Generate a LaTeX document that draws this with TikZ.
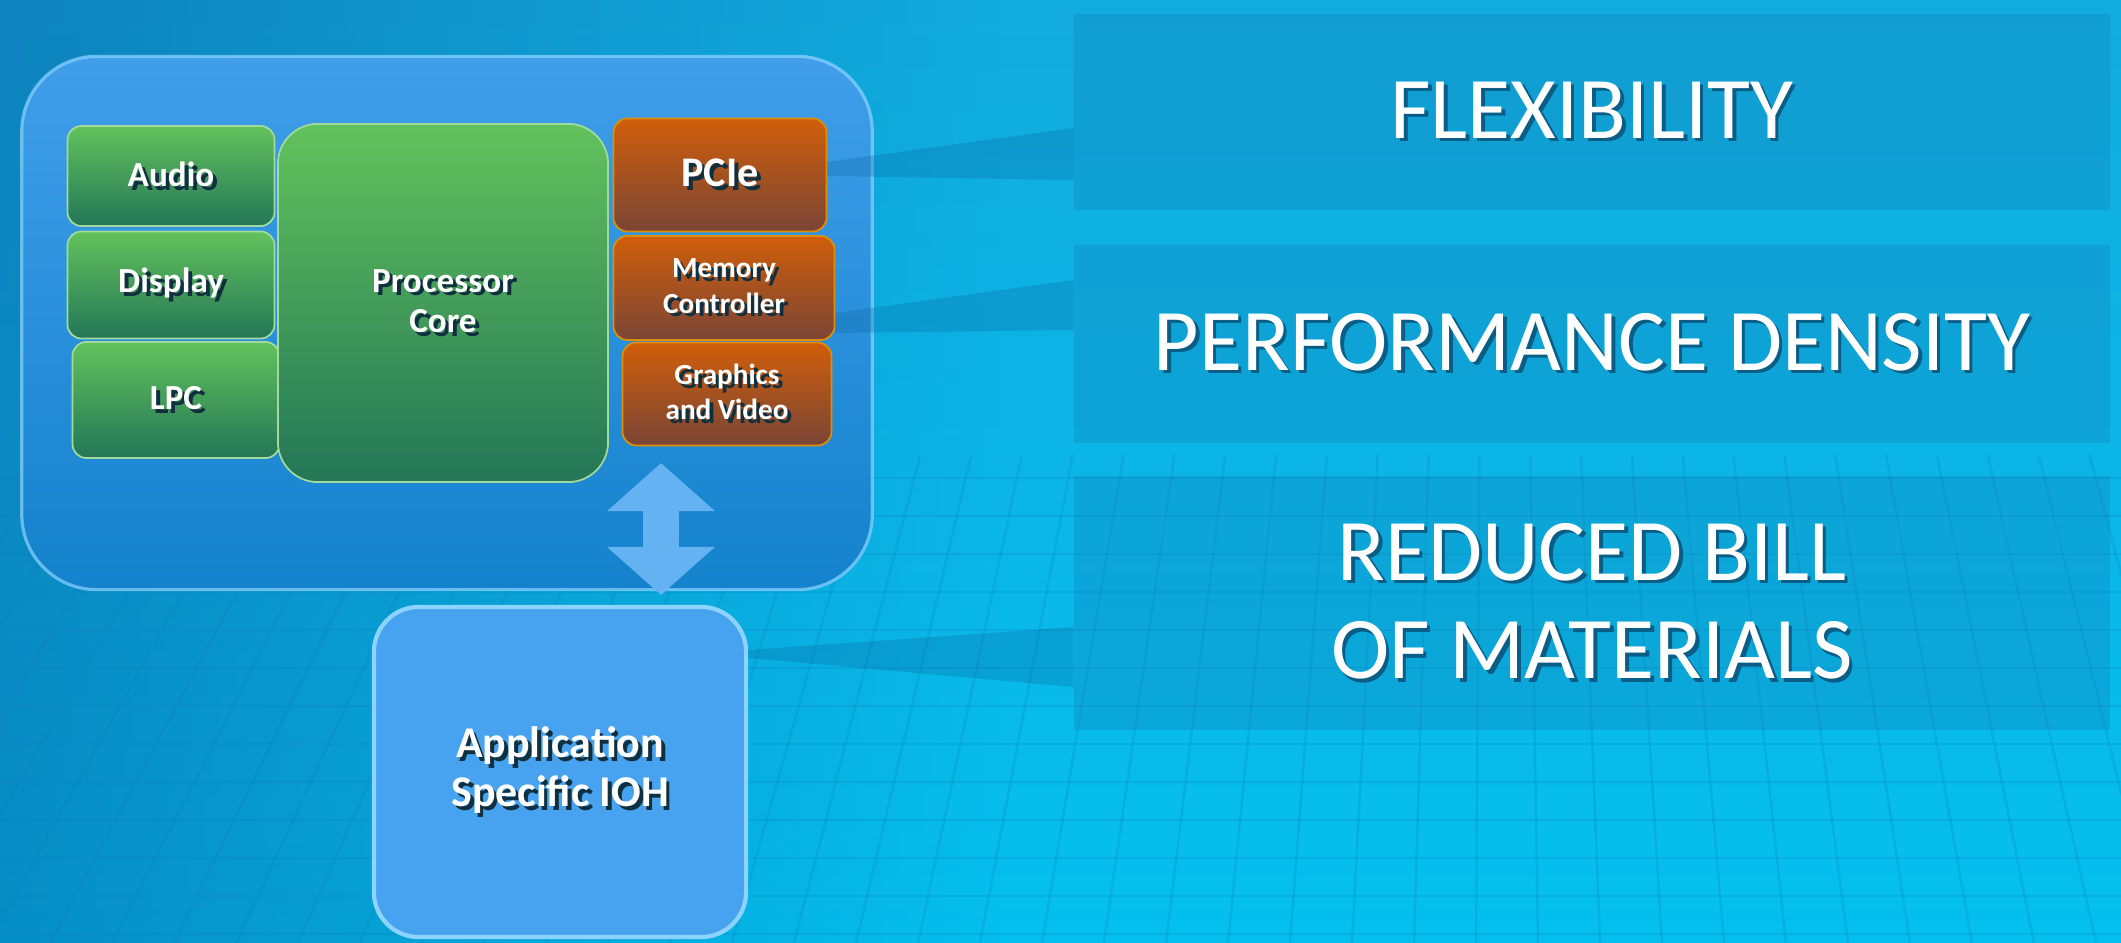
\documentclass[tikz,border=0pt]{standalone}
\usepackage{fontspec}
\setmainfont{Carlito}
\usetikzlibrary{arrows.meta,calc,fadings}

\definecolor{bgtop}{HTML}{12ABDE}
\definecolor{bgmid}{HTML}{00D2F8}
\definecolor{bgbot}{HTML}{04C0EE}
\definecolor{bgdark}{HTML}{0A5C9E}
\definecolor{gridc}{HTML}{0A7CB8}
\definecolor{panelc}{HTML}{1282BA}
\definecolor{beamc}{HTML}{0A6AA4}
\definecolor{outtop}{HTML}{409EEA}
\definecolor{outbot}{HTML}{1482CC}
\definecolor{rimc}{HTML}{8CD4FF}
\definecolor{grtop}{HTML}{62C25C}
\definecolor{grbot}{HTML}{247657}
\definecolor{ortop}{HTML}{D05E0A}
\definecolor{orbot}{HTML}{7A4536}
\definecolor{iohc}{HTML}{47A3EF}
\definecolor{arrc}{HTML}{64B2F2}
\definecolor{shdc}{HTML}{10303F}
\definecolor{capshc}{HTML}{0A5E86}

\newcommand\shtxt[1]{\leavevmode\rlap{\kern1.1pt\raisebox{-1.1pt}{\textcolor{shdc}{#1}}}#1}
\newcommand\capsh[1]{\leavevmode\rlap{\kern1pt\raisebox{-1pt}{\textcolor{capshc}{#1}}}#1}

\begin{document}
\begin{tikzpicture}[x=0.01cm, y=-0.01cm,
    blk/.style={inner sep=0pt, text=white, align=center, rounded corners=4pt,
      font=\bfseries\fontsize{10}{11.5}\selectfont},
    grn/.style={blk, top color=grtop, bottom color=grbot, draw=grtop!60!white, line width=0.5pt},
    org/.style={blk, top color=ortop, bottom color=orbot, draw=ortop!70!yellow, line width=0.5pt},
    panel/.style={fill=panelc, fill opacity=0.32, text opacity=1, text=white, inner sep=0pt,
      minimum width=10.35cm, align=center, font=\fontsize{25}{25}\selectfont},
    beam/.style={fill=beamc, fill opacity=0.3},
    gridline/.style={gridc, line width=0.7pt, opacity=0.22},
    arr/.style={draw=arrc, line width=0.36cm,
      {Triangle[width=1.05cm,length=0.48cm]}-{Triangle[width=1.05cm,length=0.48cm]}}]
  \useasboundingbox (0,0) rectangle (2121,943);

  % background
  \shade[top color=bgtop, middle color=bgmid, bottom color=bgbot] (0,0) rectangle (2121,943);
  \fill[bgdark, fill opacity=0.5, path fading=east] (0,0) rectangle (1000,943);
  \begin{scope}
    \clip (0,440) rectangle (2121,943);
    \foreach \x in {-260,-198,...,2600}
      \draw[gridline] (\x,943) -- ($(\x,943)!0.18!(1495,-1766)$);
    \foreach \y in {478,516,...,943}
      \draw[gridline] (0,\y) -- (2121,\y);
  \end{scope}

  % benefits
  \node[panel, minimum height=1.95cm] (flex) at (1592,112) {\capsh{FLEXIBILITY}};
  \node[panel, minimum height=1.97cm] (perf) at (1592,344) {\capsh{PERFORMANCE DENSITY}};
  \node[panel, minimum height=2.54cm] (bom) at (1592,603) {\capsh{REDUCED BILL}\\[3pt]\capsh{OF MATERIALS}};

  % SoC
  \node[top color=outtop, bottom color=outbot, draw=rimc, draw opacity=0.7, line width=0.9pt,
    rounded corners=0.75cm, minimum width=8.5cm, minimum height=5.33cm] (soc) at (447,323) {};

  \node[grn, minimum width=2.07cm, minimum height=1.0cm] (audio) at (171,176) {\shtxt{Audio}};
  \node[grn, minimum width=2.07cm, minimum height=1.07cm] (disp) at (171,285) {\shtxt{Display}};
  \node[grn, minimum width=2.07cm, minimum height=1.16cm] (lpc) at (176,400) {\shtxt{LPC}};
  \node[grn, rounded corners=0.4cm, minimum width=3.3cm, minimum height=3.58cm] (core) at (443,303)
    {\shtxt{Processor}\\\shtxt{Core}};

  \node[org, font=\bfseries\fontsize{12}{14}\selectfont, minimum width=2.13cm, minimum height=1.13cm]
    (pcie) at (720,175) {\shtxt{PCIe}};
  \node[org, font=\bfseries\fontsize{8.3}{10}\selectfont, minimum width=2.21cm, minimum height=1.04cm]
    (mem) at (724,288) {\shtxt{Memory}\\\shtxt{Controller}};
  \node[org, font=\bfseries\fontsize{8.3}{10}\selectfont, minimum width=2.09cm, minimum height=1.03cm]
    (gfx) at (727,394) {\shtxt{Graphics}\\\shtxt{and Video}};

  % IOH
  \node[blk, fill=iohc, draw=rimc, line width=1.2pt, rounded corners=0.45cm,
    font=\bfseries\fontsize{12.5}{14}\selectfont, minimum width=3.72cm, minimum height=3.3cm]
    (ioh) at (560,772) {\shtxt{Application}\\\shtxt{Specific IOH}};

  % beams
  \fill[beam] ($(pcie.east)+(0,-13)$) -- ($(flex.west)+(0,16)$) -- ($(flex.west)+(0,68)$) -- ($(pcie.east)+(0,1)$) -- cycle;
  \fill[beam] ($(mem.east)+(0,25)$) -- ($(perf.west)+(0,-64)$) -- ($(perf.west)+(0,-14)$) -- ($(mem.east)+(0,45)$) -- cycle;
  \fill[beam] ($(ioh.east)+(0,-122)$) -- ($(bom.west)+(0,24)$) -- ($(bom.west)+(0,84)$) -- ($(ioh.east)+(0,-114)$) -- cycle;

  % link
  \coordinate (atop) at (661,463);
  \coordinate (abot) at (661,595);
  \draw[arr] (atop) -- (abot);
\end{tikzpicture}
\end{document}
